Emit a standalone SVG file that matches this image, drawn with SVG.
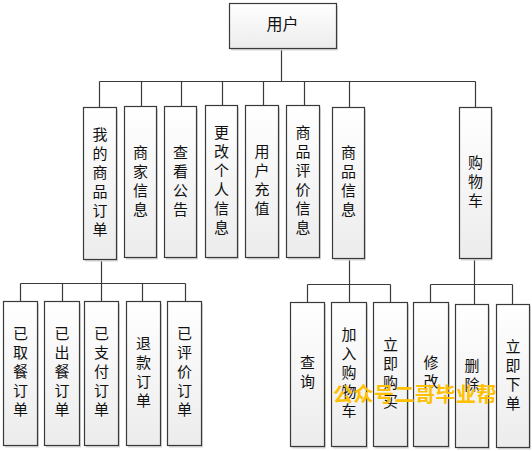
<svg xmlns="http://www.w3.org/2000/svg" width="532" height="451" viewBox="0 0 532 451">
  <defs>
    <linearGradient id="boxFill" x1="0" y1="0" x2="0" y2="1">
      <stop offset="0" stop-color="#ffffff"/>
      <stop offset="1" stop-color="#ececec"/>
    </linearGradient>
  </defs>
  <style>
    .box { fill: url(#boxFill); stroke: #3a3a3a; stroke-width: 1.2; }
    .shadow { fill: #d6d6d6; }
    .lbl { font-family: "Noto Sans CJK SC", "Noto Sans", sans-serif; font-size: 15px; fill: #111; text-anchor: middle; dominant-baseline: central; }
    .root { font-size: 16px; }
    .wire { fill: none; stroke: #3a3a3a; stroke-width: 1.2; }
    .mark { font-family: "Noto Sans CJK SC", sans-serif; font-size: 20px; font-weight: bold; fill: #ffc000; text-anchor: middle; dominant-baseline: central; letter-spacing: 0.5px; }
  </style>

  <g id="connectors">
    <path class="wire" d="M281.5,48.5V81.5M99.5,81.5H475.5M99.5,81.5V107.5M141.5,81.5V106.5M181.5,81.5V106.5M222.5,81.5V105.5M263.5,81.5V105.5M304.5,81.5V105.5M349.5,81.5V107.5M475.5,81.5V107.5"/>
    <path class="wire" d="M101.5,259.5V283.5M20.5,283.5H185.5M20.5,283.5V301.5M62.5,283.5V301.5M101.5,283.5V301.5M142.5,283.5V301.5M185.5,283.5V301.5"/>
    <path class="wire" d="M349.5,258.5V284.5M307.5,284.5H390.5M307.5,284.5V302.5M349.5,284.5V302.5M390.5,284.5V302.5"/>
    <path class="wire" d="M474.5,258.5V284.5M430.5,284.5H512.5M430.5,284.5V302.5M474.5,284.5V304.5M512.5,284.5V304.5"/>
  </g>

  <g id="user">
    <rect class="shadow" x="231" y="5.5" width="107" height="45"/>
    <rect class="box" x="229.5" y="3.5" width="107" height="45"/>
    <text class="lbl root" x="282.5" y="23">用户</text>
  </g>

  <g id="my-orders">
    <rect class="shadow" x="85" y="109.5" width="33" height="152"/>
    <rect class="box" x="83.5" y="107.5" width="33" height="152"/>
    <text class="lbl" x="100" y="132.5"><tspan x="100">我</tspan><tspan x="100" dy="19">的</tspan><tspan x="100" dy="19">商</tspan><tspan x="100" dy="19">品</tspan><tspan x="100" dy="19">订</tspan><tspan x="100" dy="19">单</tspan></text>
  </g>

  <g id="merchant-info">
    <rect class="shadow" x="126" y="108.5" width="32" height="151"/>
    <rect class="box" x="124.5" y="106.5" width="32" height="151"/>
    <text class="lbl" x="140.5" y="151"><tspan x="140.5">商</tspan><tspan x="140.5" dy="19">家</tspan><tspan x="140.5" dy="19">信</tspan><tspan x="140.5" dy="19">息</tspan></text>
  </g>

  <g id="notices">
    <rect class="shadow" x="166" y="108.5" width="32" height="151"/>
    <rect class="box" x="164.5" y="106.5" width="32" height="151"/>
    <text class="lbl" x="180.5" y="151"><tspan x="180.5">查</tspan><tspan x="180.5" dy="19">看</tspan><tspan x="180.5" dy="19">公</tspan><tspan x="180.5" dy="19">告</tspan></text>
  </g>

  <g id="edit-profile">
    <rect class="shadow" x="207" y="107.5" width="32" height="152"/>
    <rect class="box" x="205.5" y="105.5" width="32" height="152"/>
    <text class="lbl" x="221.5" y="130.5"><tspan x="221.5">更</tspan><tspan x="221.5" dy="19">改</tspan><tspan x="221.5" dy="19">个</tspan><tspan x="221.5" dy="19">人</tspan><tspan x="221.5" dy="19">信</tspan><tspan x="221.5" dy="19">息</tspan></text>
  </g>

  <g id="recharge">
    <rect class="shadow" x="247" y="107.5" width="33" height="152"/>
    <rect class="box" x="245.5" y="105.5" width="33" height="152"/>
    <text class="lbl" x="262" y="149.5"><tspan x="262">用</tspan><tspan x="262" dy="19">户</tspan><tspan x="262" dy="19">充</tspan><tspan x="262" dy="19">值</tspan></text>
  </g>

  <g id="reviews">
    <rect class="shadow" x="288" y="107.5" width="33" height="152"/>
    <rect class="box" x="286.5" y="105.5" width="33" height="152"/>
    <text class="lbl" x="303" y="130.5"><tspan x="303">商</tspan><tspan x="303" dy="19">品</tspan><tspan x="303" dy="19">评</tspan><tspan x="303" dy="19">价</tspan><tspan x="303" dy="19">信</tspan><tspan x="303" dy="19">息</tspan></text>
  </g>

  <g id="goods-info">
    <rect class="shadow" x="334" y="109.5" width="32" height="151"/>
    <rect class="box" x="332.5" y="107.5" width="32" height="151"/>
    <text class="lbl" x="348.5" y="151"><tspan x="348.5">商</tspan><tspan x="348.5" dy="19">品</tspan><tspan x="348.5" dy="19">信</tspan><tspan x="348.5" dy="19">息</tspan></text>
  </g>

  <g id="cart">
    <rect class="shadow" x="461" y="109.5" width="32" height="151"/>
    <rect class="box" x="459.5" y="107.5" width="32" height="151"/>
    <text class="lbl" x="475.5" y="161"><tspan x="475.5">购</tspan><tspan x="475.5" dy="19">物</tspan><tspan x="475.5" dy="19">车</tspan></text>
  </g>

  <g id="picked-up">
    <rect class="shadow" x="5" y="303.5" width="34" height="144"/>
    <rect class="box" x="3.5" y="301.5" width="34" height="144"/>
    <text class="lbl" x="20.5" y="332"><tspan x="20.5">已</tspan><tspan x="20.5" dy="19">取</tspan><tspan x="20.5" dy="19">餐</tspan><tspan x="20.5" dy="19">订</tspan><tspan x="20.5" dy="19">单</tspan></text>
  </g>

  <g id="served">
    <rect class="shadow" x="46" y="303.5" width="35" height="144"/>
    <rect class="box" x="44.5" y="301.5" width="35" height="144"/>
    <text class="lbl" x="62" y="332"><tspan x="62">已</tspan><tspan x="62" dy="19">出</tspan><tspan x="62" dy="19">餐</tspan><tspan x="62" dy="19">订</tspan><tspan x="62" dy="19">单</tspan></text>
  </g>

  <g id="paid">
    <rect class="shadow" x="86" y="303.5" width="34" height="144"/>
    <rect class="box" x="84.5" y="301.5" width="34" height="144"/>
    <text class="lbl" x="101.5" y="332"><tspan x="101.5">已</tspan><tspan x="101.5" dy="19">支</tspan><tspan x="101.5" dy="19">付</tspan><tspan x="101.5" dy="19">订</tspan><tspan x="101.5" dy="19">单</tspan></text>
  </g>

  <g id="refund">
    <rect class="shadow" x="128" y="303.5" width="34" height="144"/>
    <rect class="box" x="126.5" y="301.5" width="34" height="144"/>
    <text class="lbl" x="143.5" y="341.5"><tspan x="143.5">退</tspan><tspan x="143.5" dy="19">款</tspan><tspan x="143.5" dy="19">订</tspan><tspan x="143.5" dy="19">单</tspan></text>
  </g>

  <g id="reviewed">
    <rect class="shadow" x="169" y="303.5" width="34" height="144"/>
    <rect class="box" x="167.5" y="301.5" width="34" height="144"/>
    <text class="lbl" x="184.5" y="332"><tspan x="184.5">已</tspan><tspan x="184.5" dy="19">评</tspan><tspan x="184.5" dy="19">价</tspan><tspan x="184.5" dy="19">订</tspan><tspan x="184.5" dy="19">单</tspan></text>
  </g>

  <g id="search">
    <rect class="shadow" x="292" y="304.5" width="34" height="144"/>
    <rect class="box" x="290.5" y="302.5" width="34" height="144"/>
    <text class="lbl" x="307.5" y="361"><tspan x="307.5">查</tspan><tspan x="307.5" dy="19">询</tspan></text>
  </g>

  <g id="add-to-cart">
    <rect class="shadow" x="333" y="304.5" width="35" height="144"/>
    <rect class="box" x="331.5" y="302.5" width="35" height="144"/>
    <text class="lbl" x="349" y="333"><tspan x="349">加</tspan><tspan x="349" dy="19">入</tspan><tspan x="349" dy="19">购</tspan><tspan x="349" dy="19">物</tspan><tspan x="349" dy="19">车</tspan></text>
  </g>

  <g id="buy-now">
    <rect class="shadow" x="375" y="304.5" width="34" height="144"/>
    <rect class="box" x="373.5" y="302.5" width="34" height="144"/>
    <text class="lbl" x="390.5" y="342.5"><tspan x="390.5">立</tspan><tspan x="390.5" dy="19">即</tspan><tspan x="390.5" dy="19">购</tspan><tspan x="390.5" dy="19">买</tspan></text>
  </g>

  <g id="modify">
    <rect class="shadow" x="415" y="304.5" width="35" height="144"/>
    <rect class="box" x="413.5" y="302.5" width="35" height="144"/>
    <text class="lbl" x="431" y="361"><tspan x="431">修</tspan><tspan x="431" dy="19">改</tspan></text>
  </g>

  <g id="delete">
    <rect class="shadow" x="457" y="306.5" width="33" height="143"/>
    <rect class="box" x="455.5" y="304.5" width="33" height="143"/>
    <text class="lbl" x="472" y="363.5"><tspan x="472">删</tspan><tspan x="472" dy="19">除</tspan></text>
  </g>

  <g id="order-now">
    <rect class="shadow" x="498" y="306.5" width="33" height="143"/>
    <rect class="box" x="496.5" y="304.5" width="33" height="143"/>
    <text class="lbl" x="513" y="344.5"><tspan x="513">立</tspan><tspan x="513" dy="19">即</tspan><tspan x="513" dy="19">下</tspan><tspan x="513" dy="19">单</tspan></text>
  </g>

  <text class="mark" x="415" y="393">公众号二哥毕业帮</text>
</svg>
